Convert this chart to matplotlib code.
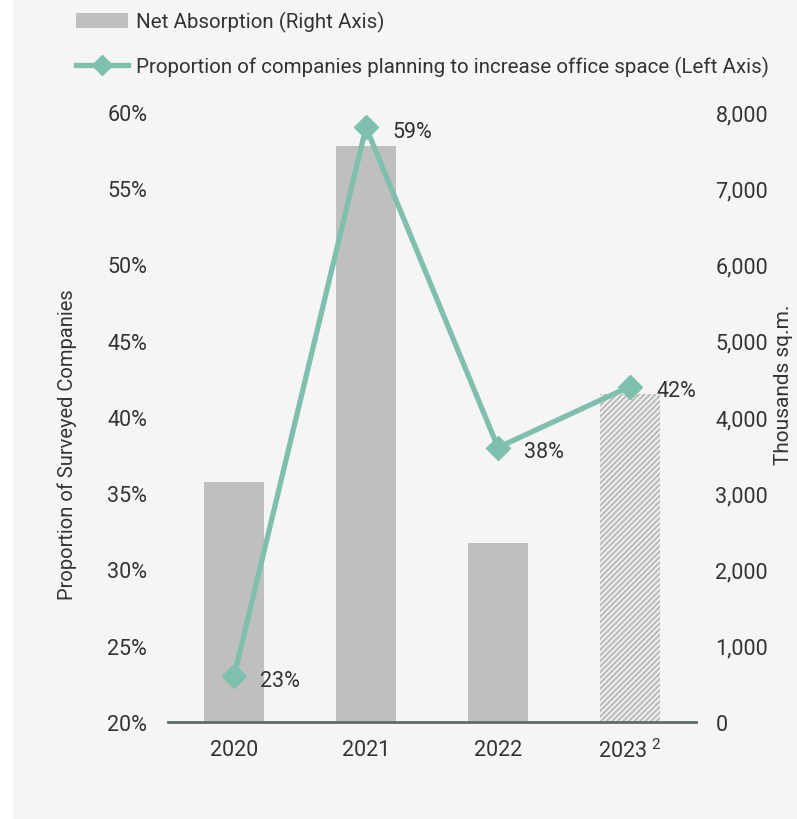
import matplotlib
matplotlib.use("Agg")
import matplotlib.pyplot as plt
from matplotlib.patches import Rectangle, Patch
from matplotlib.lines import Line2D

plt.rcParams['font.family'] = ['Roboto', 'DejaVu Sans']
plt.rcParams['mathtext.default'] = 'regular'
plt.rcParams['hatch.color'] = '#bdbdbd'
plt.rcParams['hatch.linewidth'] = 1.6

# data
years = ['2020', '2021', '2022', '2023$^{\\ 2}$']
net_absorption = [3150, 7550, 2350, 4300]      # thousand sq.m.
plan_increase = [23, 59, 38, 42]               # % of companies
pct_ticks = [20, 25, 30, 35, 40, 45, 50, 55, 60]
area_ticks = [0, 1000, 2000, 3000, 4000, 5000, 6000, 7000, 8000]

bar_color = '#bfbfbf'
line_color = '#7fbfad'
text_color = '#333333'
fs = 15.5

fig = plt.figure(figsize=(7.97, 8.20), dpi=100)
fig.patch.set_facecolor('white')
fig.patches.append(Rectangle((13 / 797, 0), 1, 1, transform=fig.transFigure,
                             facecolor='#f5f5f5', edgecolor='none', zorder=-10))

ax = fig.add_axes([168 / 797, 97 / 820, 528 / 797, 610 / 820])
ax.set_facecolor('none')
ax2 = ax.twinx()
ax2.set_zorder(0)
ax.set_zorder(1)

x = list(range(len(years)))

# bars on the right axis, last year shown hatched (forecast)
bars = ax2.bar(x, net_absorption, width=0.455, color=bar_color, edgecolor='none')
bars[-1].set_facecolor('#f5f5f5')
bars[-1].set_hatch('//////')
bars[-1].set_edgecolor('#bdbdbd')
bars[-1].set_linewidth(0)

ax2.set_ylim(0, 8000)
ax2.set_yticks(area_ticks)
ax2.set_yticklabels([f'{v:,}' for v in area_ticks])

# line on the left axis
ax.plot(x, plan_increase, color=line_color, lw=3.8, marker='D', ms=12,
        markerfacecolor=line_color, markeredgecolor=line_color, zorder=5)
for xi, v in zip(x, plan_increase):
    ax.annotate(f'{v}%', (xi, v), xytext=(19, -3), textcoords='offset points',
                ha='left', va='center', fontsize=fs, color=text_color)

ax.set_xlim(-0.5, 3.5)
ax.set_ylim(20, 60)
ax.set_yticks(pct_ticks)
ax.set_yticklabels([f'{v}%' for v in pct_ticks])
ax.set_xticks(x)
ax.set_xticklabels(years)

for a in (ax, ax2):
    for s in a.spines.values():
        s.set_visible(False)
    a.tick_params(length=0, labelsize=fs, colors=text_color)
ax.tick_params(axis='y', pad=15)
ax2.tick_params(axis='y', pad=14)
ax.tick_params(axis='x', pad=12)
ax.spines['bottom'].set_visible(True)
ax.spines['bottom'].set_color('#5f6b6b')
ax.spines['bottom'].set_linewidth(2)

ax.set_ylabel('Proportion of Surveyed Companies', fontsize=14.5, color=text_color)
ax.yaxis.set_label_coords(-0.172, 0.456)
ax2.set_ylabel('Thousands sq.m.', fontsize=15, color=text_color)
ax2.yaxis.set_label_coords(1.147, 0.554)

handles = [Patch(facecolor=bar_color, edgecolor='none'),
           Line2D([0], [0], color=line_color, lw=3.8, marker='D', ms=10)]
labels = ['Net Absorption (Right Axis)',
          'Proportion of companies planning to increase office space (Left Axis)']
fig.legend(handles, labels, loc='upper left', bbox_to_anchor=(68 / 797, 0.995),
           frameon=False, fontsize=14.8, labelcolor=text_color, handlelength=2.5,
           handleheight=0.7, labelspacing=1.15, handletextpad=0.4, borderaxespad=0.0)

fig.savefig('out.png', dpi=100, facecolor=fig.get_facecolor())
